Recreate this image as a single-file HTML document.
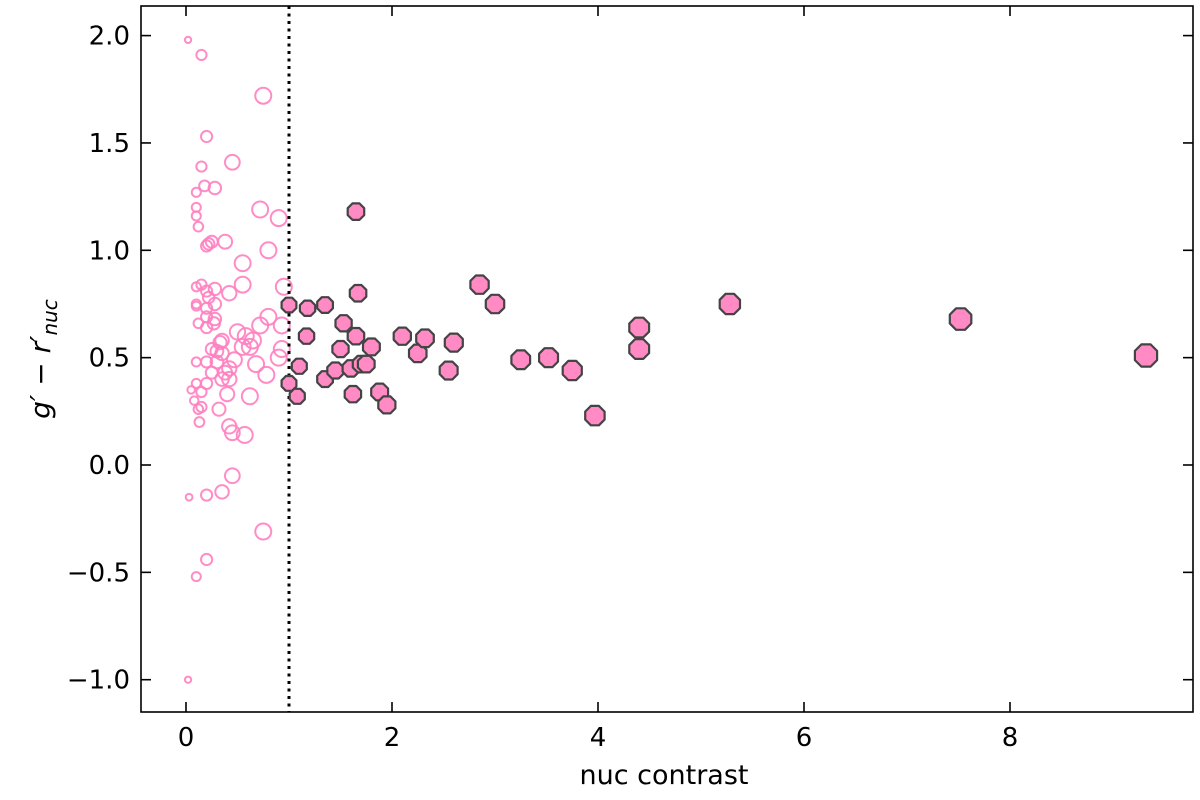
<!DOCTYPE html>
<html><head><meta charset="utf-8">
<style>html,body{margin:0;padding:0;background:#fff}svg{display:block}text{font-family:"DejaVu Sans","Liberation Sans",sans-serif;fill:#000}</style>
</head><body>
<svg id="chart" width="1200" height="800" viewBox="0 0 1200 800">
<g id="marks"></g>
<rect x="141" y="6" width="1052" height="706" fill="none" stroke="#000" stroke-width="1.6"/>
<g id="axes"></g>
<text x="664" y="784" font-size="27" text-anchor="middle">nuc contrast</text>
<text transform="translate(50,359) rotate(-90)" font-size="28" text-anchor="middle"><tspan font-style="italic">g′</tspan> − <tspan font-style="italic">r′</tspan><tspan font-style="italic" font-size="20" dy="7">nuc</tspan></text>
</svg>
<script>
const openX=[0.02,0.15,0.75,0.2,0.45,0.15,0.28,0.18,0.1,0.1,0.1,0.12,0.72,0.9,0.8,0.38,0.25,0.2,0.22,0.55,0.95,0.55,0.42,0.1,0.15,0.2,0.28,0.22,0.1,0.1,0.2,0.28,0.8,0.72,0.2,0.28,0.27,0.12,0.2,0.5,0.58,0.65,0.35,0.33,0.62,0.55,0.3,0.35,0.25,0.47,0.93,0.93,0.9,0.68,0.3,0.1,0.2,0.42,0.38,0.25,0.78,0.1,0.2,0.35,0.42,0.05,0.15,0.4,0.62,0.08,0.15,0.12,0.32,0.13,0.42,0.45,0.57,0.45,0.03,0.2,0.35,0.75,0.2,0.1,0.02];
const openY=[1.98,1.91,1.72,1.53,1.41,1.39,1.29,1.3,1.27,1.2,1.16,1.11,1.19,1.15,1.0,1.04,1.04,1.02,1.03,0.94,0.83,0.84,0.80,0.83,0.84,0.81,0.82,0.78,0.75,0.74,0.73,0.75,0.69,0.65,0.69,0.68,0.66,0.66,0.64,0.62,0.60,0.58,0.58,0.57,0.55,0.55,0.53,0.52,0.54,0.49,0.65,0.54,0.50,0.47,0.48,0.48,0.48,0.45,0.43,0.43,0.42,0.38,0.38,0.40,0.40,0.35,0.34,0.33,0.32,0.30,0.27,0.26,0.26,0.2,0.18,0.15,0.14,-0.05,-0.15,-0.14,-0.125,-0.31,-0.44,-0.52,-1.0];
const fillX=[1.0,1.18,1.35,1.65,1.67,1.17,1.53,1.65,1.5,1.8,1.0,1.1,1.08,1.35,1.45,1.6,1.7,1.75,1.62,1.88,1.95,2.1,2.25,2.32,2.55,2.6,2.85,3.0,3.25,3.52,3.75,3.97,4.4,4.4,5.28,7.52,9.32];
const fillY=[0.745,0.73,0.745,1.18,0.80,0.60,0.66,0.60,0.54,0.55,0.38,0.46,0.32,0.40,0.44,0.45,0.47,0.47,0.33,0.34,0.28,0.60,0.52,0.59,0.44,0.57,0.84,0.75,0.49,0.50,0.44,0.23,0.64,0.54,0.75,0.68,0.51];
const xTicks=[0,2,4,6,8];
const yTicks=[-1.0,-0.5,0.0,0.5,1.0,1.5,2.0];
const X=v=>186+v*103, Y=v=>465-v*214.7;
const NS="http://www.w3.org/2000/svg";
function mk(t,a,p){const e=document.createElementNS(NS,t);for(const k in a)e.setAttribute(k,a[k]);p.appendChild(e);return e;}
const marks=document.getElementById('marks'), axes=document.getElementById('axes');
function rad(x){return x<=1?Math.min(8,2+8*Math.sqrt(x)):8+1.8*Math.log(x);}
openX.forEach((x,i)=>{const c=mk('circle',{cx:X(x),cy:Y(openY[i]),r:rad(x),fill:'none',stroke:'#ff80c0','stroke-width':2,'stroke-opacity':0.9},marks);

});
const vl=mk('line',{x1:X(1),x2:X(1),y1:6,y2:712,stroke:'#000','stroke-width':3,'stroke-dasharray':'3,4.5'},marks);


fillX.forEach((x,i)=>{const r=rad(x),cx=X(x),cy=Y(fillY[i]);const pts=[];for(let k=0;k<8;k++){const a=Math.PI/8+k*Math.PI/4;pts.push((cx+r*Math.cos(a)).toFixed(1)+','+(cy+r*Math.sin(a)).toFixed(1));}
const p=mk('polygon',{points:pts.join(' '),fill:'#ff8ac4',stroke:'#444','stroke-width':2.2,'stroke-linejoin':'round'},marks);

});
xTicks.forEach(v=>{mk('line',{x1:X(v),x2:X(v),y1:712,y2:702,stroke:'#000','stroke-width':1.6},axes);mk('line',{x1:X(v),x2:X(v),y1:6,y2:16,stroke:'#000','stroke-width':1.6},axes);
const t=mk('text',{x:X(v),y:746,'font-size':26,'text-anchor':'middle'},axes);t.textContent=v;

});
yTicks.forEach(v=>{mk('line',{x1:141,x2:151,y1:Y(v),y2:Y(v),stroke:'#000','stroke-width':1.6},axes);mk('line',{x1:1193,x2:1183,y1:Y(v),y2:Y(v),stroke:'#000','stroke-width':1.6},axes);
const t=mk('text',{x:130,y:Y(v)+9,'font-size':26,'text-anchor':'end'},axes);t.textContent=(v<0?'−':'')+Math.abs(v).toFixed(1);

});
</script>
</body></html>
